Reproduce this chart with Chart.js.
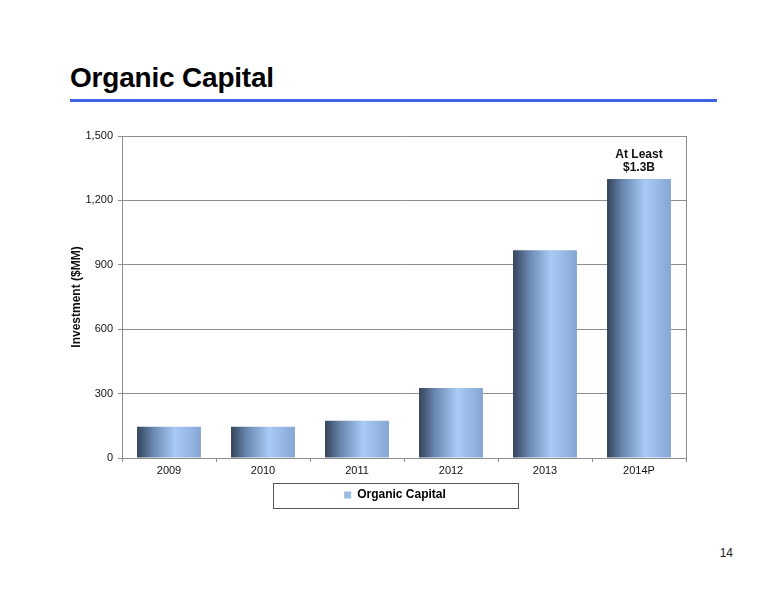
<!DOCTYPE html>
<html>
<head>
<meta charset="utf-8">
<script src="https://cdn.jsdelivr.net/npm/chart.js@4"></script>
<style>
  html, body { margin: 0; padding: 0; background: #fff; }
  body { width: 776px; height: 600px; position: relative; overflow: hidden; font-family: "Liberation Sans", Arial, sans-serif; }
  .slide-title { position: absolute; left: 70px; top: 64px; font-size: 28px; line-height: 28px; font-weight: bold; color: #000; letter-spacing: -0.2px; }
  .slide-rule { position: absolute; left: 70px; top: 99px; width: 647px; height: 3px; background: #3c64e4; }
  .page-num { position: absolute; left: 700px; width: 33px; top: 546px; text-align: right; font-size: 12px; line-height: 14px; color: #222; }
  #chart-wrap { position: absolute; left: 0; top: 0; width: 776px; height: 600px; }
</style>
</head>
<body>
<div class="slide-title">Organic Capital</div>
<div class="slide-rule"></div>
<div class="page-num">14</div>
<div id="chart-wrap"><canvas id="chart-organic"></canvas></div>

<script>
'use strict';

// ── Data ────────────────────────────────────────────────────
const years = ['2009', '2010', '2011', '2012', '2013', '2014P'];
const organicCapital = [145, 145, 173, 326, 968, 1300];
const yTicks = [0, 300, 600, 900, 1200, 1500];
const seriesName = 'Organic Capital';
const axisTitle = 'Investment ($MM)';
const noteLines = ['At Least', '$1.3B'];

const FONT = '"Liberation Sans", Arial, sans-serif';
const BAR_PCT = 0.68;
const gridColor = '#8e8e8e';

// horizontal "cylinder" shading per bar
function barFill(ctx) {
  const chart = ctx.chart;
  const xs = chart.scales.x;
  if (!xs || ctx.dataIndex === undefined || !chart.chartArea) return '#8fb0da';
  const center = xs.getPixelForValue(ctx.dataIndex);
  const half = (xs.width / years.length) * BAR_PCT / 2;
  const g = chart.ctx.createLinearGradient(center - half, 0, center + half, 0);
  g.addColorStop(0, '#34435a');
  g.addColorStop(0.25, '#6a88b0');
  g.addColorStop(0.6, '#a8cbf5');
  g.addColorStop(1, '#85a6d3');
  return g;
}

// ── Plugin: plot frame, legend box, note above last bar ────
const decorations = {
  id: 'decorations',
  afterLayout(chart) {
    // legend sits a little left of the plot centre in the original slide
    const lg = chart.legend;
    if (lg) { lg.left -= 9; lg.right -= 9; }
  },
  afterDatasetsDraw(chart) {
    const { ctx, chartArea: a } = chart;
    ctx.save();
    ctx.strokeStyle = gridColor;
    ctx.lineWidth = 1;
    ctx.beginPath();
    ctx.moveTo(a.right + 0.5, a.top);
    ctx.lineTo(a.right + 0.5, a.bottom);
    ctx.stroke();

    const last = chart.getDatasetMeta(0).data[organicCapital.length - 1];
    ctx.fillStyle = '#111';
    ctx.font = 'bold 12px ' + FONT;
    ctx.textAlign = 'center';
    ctx.textBaseline = 'middle';
    ctx.fillText(noteLines[0], last.x, last.y - 24);
    ctx.fillText(noteLines[1], last.x, last.y - 11);
    ctx.restore();
  },
  afterDraw(chart) {
    const lg = chart.legend;
    if (!lg || !lg.legendHitBoxes.length) return;
    const hb = lg.legendHitBoxes[0];
    const cx = hb.left + hb.width / 2;
    const cy = hb.top + hb.height / 2;
    const { ctx } = chart;
    ctx.save();
    ctx.strokeStyle = '#555';
    ctx.lineWidth = 1;
    ctx.strokeRect(Math.round(cx - 122.5) + 0.5, Math.round(cy - 12.5) + 0.5, 245, 25);
    ctx.restore();
  }
};

new Chart(document.getElementById('chart-organic').getContext('2d'), {
  type: 'bar',
  data: {
    labels: years,
    datasets: [{
      label: seriesName,
      data: organicCapital,
      backgroundColor: barFill,
      borderWidth: 0,
      barPercentage: BAR_PCT,
      categoryPercentage: 1
    }]
  },
  options: {
    responsive: true, maintainAspectRatio: false,
    animation: false,
    layout: { padding: { left: 62, right: 90, top: 136, bottom: 89 } },
    plugins: {
      legend: {
        position: 'bottom',
        fullSize: false,
        labels: {
          color: '#111',
          font: { family: FONT, size: 12, weight: 'bold' },
          boxWidth: 7, boxHeight: 7, padding: 7,
          generateLabels: chart => [{
            text: seriesName, fillStyle: '#9bbbe0', strokeStyle: '#9bbbe0',
            lineWidth: 0, hidden: false, datasetIndex: 0
          }]
        }
      },
      tooltip: { enabled: false }
    },
    scales: {
      x: {
        afterFit: s => { s.height = 24; },
        grid: { display: true, drawOnChartArea: false, drawTicks: true, tickLength: 4, color: gridColor, offset: true },
        border: { color: gridColor },
        ticks: { color: '#111', font: { family: FONT, size: 11 }, padding: 2 }
      },
      y: {
        min: 0, max: 1500,
        afterFit: s => { s.width = 60; },
        afterBuildTicks: s => { s.ticks = yTicks.map(v => ({ value: v })); },
        grid: { color: gridColor, tickLength: 4 },
        border: { color: gridColor },
        title: { display: true, text: axisTitle, color: '#111', font: { family: FONT, size: 12, weight: 'bold' }, padding: { top: 7, bottom: 0 } },
        ticks: { color: '#111', font: { family: FONT, size: 11 }, padding: 5, callback: v => v.toLocaleString('en-US') }
      }
    }
  },
  plugins: [decorations]
});
</script>
</body>
</html>
